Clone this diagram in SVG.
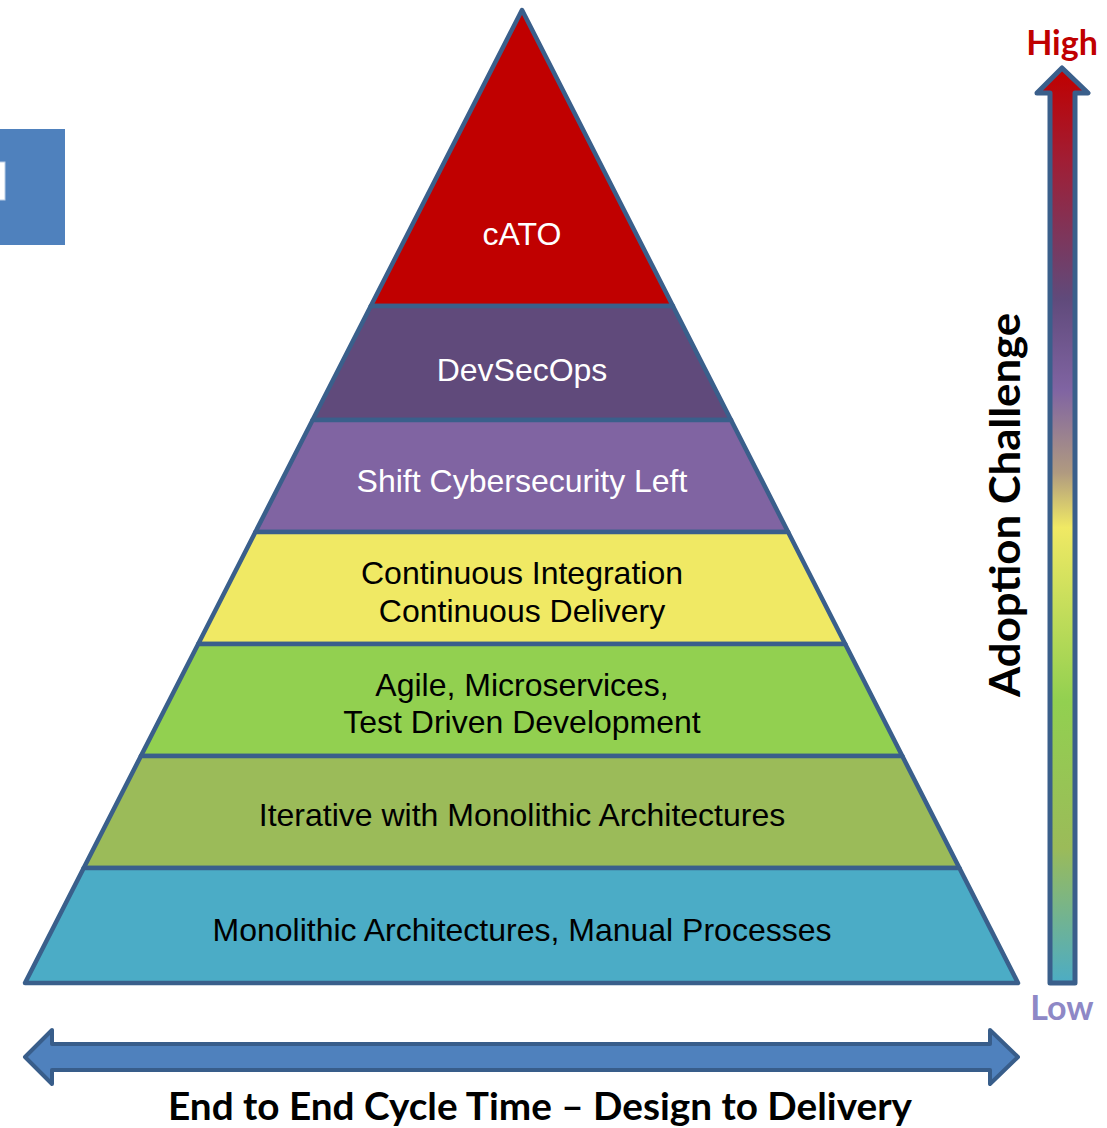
<svg xmlns="http://www.w3.org/2000/svg" width="1107" height="1128" viewBox="0 0 1107 1128">
<defs>
<style>
.layer{stroke:#3A5F8B;stroke-width:4.5;stroke-linejoin:round}
.lt{font-family:"Liberation Sans",Arial,sans-serif;font-size:32px;text-anchor:middle}
.w{fill:#FFFFFF}
.b{fill:#000000}
.bold{font-family:Lato,"Open Sans",sans-serif;font-weight:bold;text-anchor:middle}
</style>
<linearGradient id="grad" gradientUnits="userSpaceOnUse" x1="0" y1="70" x2="0" y2="985">
<stop offset="0" stop-color="#C00000"/>
<stop offset="0.1" stop-color="#A01E35"/>
<stop offset="0.25" stop-color="#604A7B"/>
<stop offset="0.35" stop-color="#8064A2"/>
<stop offset="0.44" stop-color="#B09A80"/>
<stop offset="0.5" stop-color="#F0E964"/>
<stop offset="0.69" stop-color="#92D050"/>
<stop offset="0.85" stop-color="#9BBB59"/>
<stop offset="1" stop-color="#4BACC6"/>
</linearGradient>
</defs>
<rect width="1107" height="1128" fill="#FFFFFF"/>
<g id="side-tab">
<rect x="0" y="129" width="65" height="116" fill="#4F81BD"/>
<rect x="-2" y="162" width="7" height="38" fill="#FFFFFF" stroke="#B9CDE5" stroke-width="1"/>
</g>
<g id="layer-cato">
<polygon class="layer" fill="#C00000" points="522,10 672.9,306 370.8,306"/>
<text class="lt w" x="522" y="245">cATO</text>
</g>
<g id="layer-devsecops">
<polygon class="layer" fill="#604A7B" points="370.8,306 672.9,306 731,420 312.6,420"/>
<text class="lt w" x="522" y="381">DevSecOps</text>
</g>
<g id="layer-shift">
<polygon class="layer" fill="#8064A2" points="312.6,420 731,420 788.1,532 255.4,532"/>
<text class="lt w" x="522" y="492">Shift Cybersecurity Left</text>
</g>
<g id="layer-cicd">
<polygon class="layer" fill="#F0E964" points="255.4,532 788.1,532 845.2,644 198.2,644"/>
<text class="lt b" x="522" y="584">Continuous Integration</text>
<text class="lt b" x="522" y="622">Continuous Delivery</text>
</g>
<g id="layer-agile">
<polygon class="layer" fill="#92D050" points="198.2,644 845.2,644 902.3,756 140.9,756"/>
<text class="lt b" x="522" y="696">Agile, Microservices,</text>
<text class="lt b" x="522" y="733">Test Driven Development</text>
</g>
<g id="layer-iterative">
<polygon class="layer" fill="#9BBB59" points="140.9,756 902.3,756 959.4,868 83.7,868"/>
<text class="lt b" x="522" y="826">Iterative with Monolithic Architectures</text>
</g>
<g id="layer-monolithic">
<polygon class="layer" fill="#4BACC6" points="83.7,868 959.4,868 1018,983 25,983"/>
<text class="lt b" x="522" y="941">Monolithic Architectures, Manual Processes</text>
</g>
<g id="axes">
<path d="M1062,68 L1088,93 L1075,93 L1075,983 L1050,983 L1050,93 L1037,93 Z" fill="url(#grad)" stroke="#3A5F8B" stroke-width="5" stroke-linejoin="round"/>
<path d="M25,1057 L52,1030 L52,1044 L990,1044 L990,1030 L1018,1057 L990,1084 L990,1070 L52,1070 L52,1084 Z" fill="#4F81BD" stroke="#385D8A" stroke-width="4" stroke-linejoin="round"/>
</g>
<g id="labels">
<text class="bold" x="1062" y="55" font-size="34" fill="#C00000">High</text>
<text class="bold" x="1062" y="1020" font-size="34" fill="#8E88C6">Low</text>
<text class="bold" transform="translate(1020,505) rotate(-90)" font-size="42" fill="#000000" textLength="384" lengthAdjust="spacingAndGlyphs">Adoption Challenge</text>
<text class="bold" x="540" y="1120" font-size="38" fill="#000000" textLength="744" lengthAdjust="spacingAndGlyphs">End to End Cycle Time – Design to Delivery</text>
</g>
</svg>
